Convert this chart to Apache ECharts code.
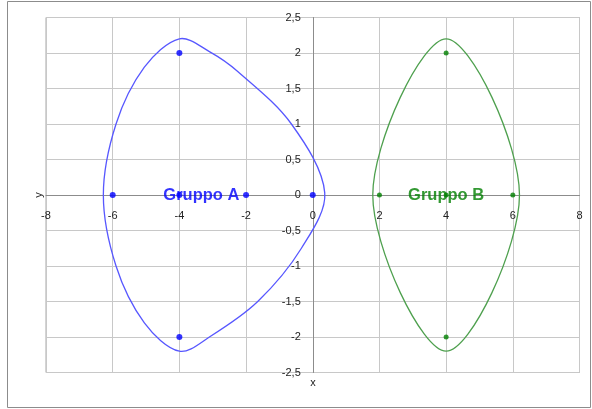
<!DOCTYPE html>
<html>
<head>
<meta charset="utf-8">
<script src="https://cdn.jsdelivr.net/npm/echarts@6/dist/echarts.min.js"></script>
<style>
  html, body { margin: 0; padding: 0; background: #fff; }
  #main { width: 592px; height: 409px; }
</style>
</head>
<body>
<div id="main"></div>
<script>
// data points (x, y)
const pointsA = [[-6, 0], [-4, 2], [-2, 0], [0, 0], [-4, -2], [-4, 0]];
const pointsB = [[2, 0], [4, 2], [6, 0], [4, -2], [4, 0]];

// vertices of the smoothed outline round each group
const hullA = [
  [-6.28, 0], [-5.9, 1.0], [-5.05, 1.8], [-4, 2.2], [-3.1, 2.02], [-2.25, 1.74],
  [-0.64, 1.0], [0.36, 0.03], [-0.34, -0.75], [-1.65, -1.5], [-3.1, -2.0],
  [-4, -2.2], [-5.05, -1.8], [-5.9, -1.0]
];
const hullB = [[1.8, 0], [4, 2.2], [6.2, 0], [4, -2.2]];

const groupNames = ['Gruppo A', 'Gruppo B'];
const xTicks = [-8, 8, 2];       // min, max, step
const yTicks = [-2.5, 2.5, 0.5];

const chart = echarts.init(document.getElementById('main'));

const fmt = v => String(v).replace('.', ',');

// grid box
const gLeft = 46, gTop = 17.5, gRight = 12.5, gBottom = 36.5;
const gW = 592 - gLeft - gRight, gH = 409 - gTop - gBottom;
// move axes so they cross at the origin
const yOffset = -gW * (0 - xTicks[0]) / (xTicks[1] - xTicks[0]);
const xOffset = -gH * (0 - yTicks[0]) / (yTicks[1] - yTicks[0]);

function withLabel(points, name, color, offset) {
  const last = points[points.length - 1];
  return points.map(p => {
    if (p !== last) return p;
    return {
      value: p,
      label: {
        show: true, formatter: name, position: 'inside', offset: offset,
        color: color, fontSize: 16.5, fontWeight: 'bold', fontFamily: 'Liberation Sans'
      }
    };
  });
}

// closed smooth outline through the hull vertices
function hullSeries(hull, color) {
  return {
    type: 'custom',
    data: hull,
    encode: { x: 0, y: 1 },
    z: 2,
    silent: true,
    renderItem: (params, api) => {
      if (params.dataIndex !== 0) return null;
      return {
        type: 'polygon',
        shape: { points: hull.map(p => api.coord(p)), smooth: 1 / 3 },
        style: { fill: 'none', stroke: color, lineWidth: 1.3 }
      };
    }
  };
}

const option = {
  animation: false,
  backgroundColor: '#fff',
  grid: { left: gLeft, top: gTop, right: gRight, bottom: gBottom, show: true, borderColor: '#a8a8a8', borderWidth: 1 },
  graphic: [
    { type: 'rect', shape: { x: 7.5, y: 1.5, width: 583, height: 406 }, style: { fill: 'none', stroke: '#8c8c8c', lineWidth: 1 }, z: -1 },
    { type: 'text', x: 39, y: 195, rotation: Math.PI / 2, style: { text: 'y', font: '11px "Liberation Sans"', fill: '#222', align: 'center', verticalAlign: 'middle' } },
    { type: 'text', x: 313, y: 383, style: { text: 'x', font: '11px "Liberation Sans"', fill: '#222', align: 'center', verticalAlign: 'middle' } }
  ],
  xAxis: {
    type: 'value', min: xTicks[0], max: xTicks[1], interval: xTicks[2],
    position: 'bottom', offset: xOffset,
    axisLine: { onZero: false, lineStyle: { color: '#8c8c8c' } },
    axisTick: { show: false },
    axisLabel: { margin: 15, color: '#222', fontSize: 11, fontFamily: 'Liberation Sans', formatter: fmt, showMinLabel: true, showMaxLabel: true },
    splitLine: { show: true, lineStyle: { color: '#c8c8c8' } }
  },
  yAxis: {
    type: 'value', min: yTicks[0], max: yTicks[1], interval: yTicks[2],
    position: 'left', offset: yOffset,
    axisLine: { onZero: false, lineStyle: { color: '#8c8c8c' } },
    axisTick: { show: false },
    axisLabel: { margin: 12, color: '#222', fontSize: 11, fontFamily: 'Liberation Sans', formatter: fmt, showMinLabel: true, showMaxLabel: true },
    splitLine: { show: true, lineStyle: { color: '#c8c8c8' } }
  },
  series: [
    hullSeries(hullA, '#5757ff'),
    hullSeries(hullB, '#4ea04e'),
    { type: 'scatter', data: withLabel(pointsA, groupNames[0], '#0000ff', [22, 0]), symbolSize: 6, itemStyle: { color: '#0000ff' }, z: 3 },
    { type: 'scatter', data: withLabel(pointsB, groupNames[1], '#008000', [0, 0]), symbolSize: 5, itemStyle: { color: '#008000' }, z: 3 }
  ]
};

chart.setOption(option);
</script>
</body>
</html>
